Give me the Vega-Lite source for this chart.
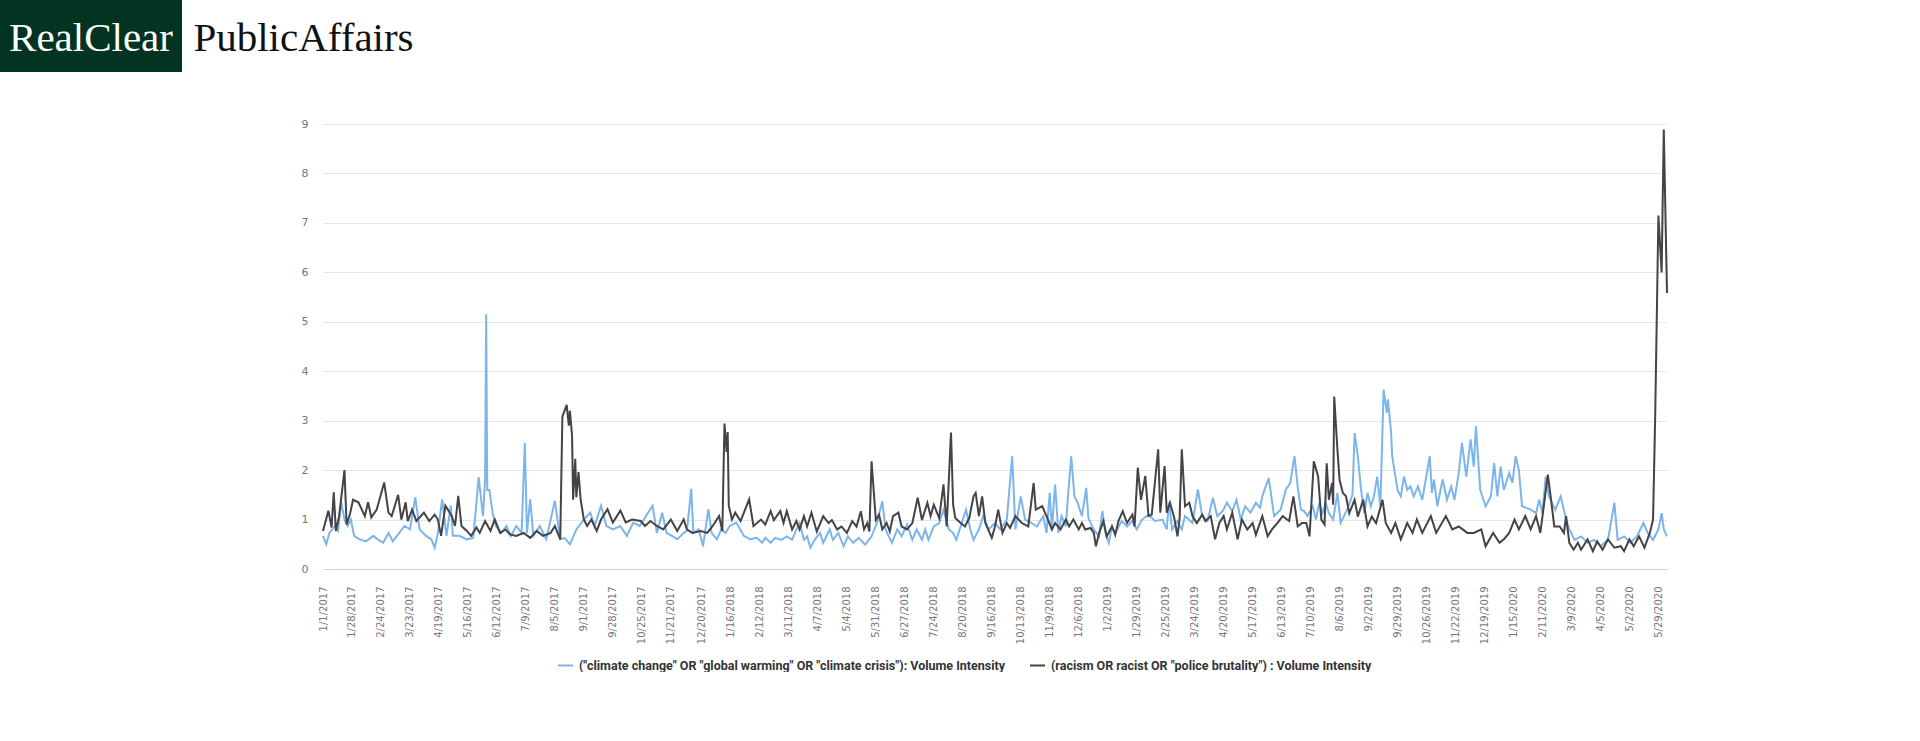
{
"$schema":"https://vega.github.io/schema/vega-lite/v6.json",
"background":"white",
"padding":0,
"config":{"view":{"stroke":null}},
"spacing":46,
"vconcat":[
{"hconcat":[
 {"width":182,"height":72,"data":{"values":[{"brand":"RealClear"}]},
  "layer":[
   {"mark":{"type":"rect","color":"#033321"}},
   {"mark":{"type":"text","font":"Liberation Serif","fontSize":41,"color":"white","dy":3},"encoding":{"text":{"field":"brand"}}}
  ]},
 {"width":243,"height":72,"data":{"values":[{"brand":"PublicAffairs"}]},
  "mark":{"type":"text","font":"Liberation Serif","fontSize":41,"color":"#111111","dy":3},
  "encoding":{"text":{"field":"brand"}}}
],"spacing":0},
{"hconcat":[
 {"width":301,"height":10,"data":{"values":[]},"mark":"rect"},
 {"width":1344,"height":445,
  "data":{"values":[
{"d":"2017-01-01","s":"c","v":0.67},{"d":"2017-01-04","s":"c","v":0.5},{"d":"2017-01-07","s":"c","v":0.73},{"d":"2017-01-12","s":"c","v":0.87},{"d":"2017-01-15","s":"c","v":0.77},{"d":"2017-01-18","s":"c","v":1.35},{"d":"2017-01-21","s":"c","v":1.0},{"d":"2017-01-24","s":"c","v":0.87},{"d":"2017-01-27","s":"c","v":1.0},{"d":"2017-01-30","s":"c","v":0.67},
{"d":"2017-02-04","s":"c","v":0.6},{"d":"2017-02-10","s":"c","v":0.56},{"d":"2017-02-17","s":"c","v":0.67},{"d":"2017-02-21","s":"c","v":0.6},{"d":"2017-02-26","s":"c","v":0.53},{"d":"2017-03-03","s":"c","v":0.73},{"d":"2017-03-07","s":"c","v":0.56},{"d":"2017-03-13","s":"c","v":0.73},{"d":"2017-03-18","s":"c","v":0.87},{"d":"2017-03-23","s":"c","v":0.8},
{"d":"2017-03-28","s":"c","v":1.45},{"d":"2017-04-01","s":"c","v":0.8},{"d":"2017-04-07","s":"c","v":0.67},{"d":"2017-04-12","s":"c","v":0.6},{"d":"2017-04-15","s":"c","v":0.43},{"d":"2017-04-18","s":"c","v":0.73},{"d":"2017-04-22","s":"c","v":1.41},{"d":"2017-04-26","s":"c","v":0.67},{"d":"2017-04-30","s":"c","v":1.28},{"d":"2017-05-02","s":"c","v":0.67},
{"d":"2017-05-08","s":"c","v":0.67},{"d":"2017-05-15","s":"c","v":0.6},{"d":"2017-05-21","s":"c","v":0.63},{"d":"2017-05-26","s":"c","v":1.86},{"d":"2017-05-30","s":"c","v":1.07},{"d":"2017-06-01","s":"c","v":1.8},{"d":"2017-06-02","s":"c","v":5.15},{"d":"2017-06-03","s":"c","v":1.6},{"d":"2017-06-05","s":"c","v":1.6},{"d":"2017-06-08","s":"c","v":1.14},
{"d":"2017-06-11","s":"c","v":0.87},{"d":"2017-06-16","s":"c","v":0.73},{"d":"2017-06-21","s":"c","v":0.87},{"d":"2017-06-25","s":"c","v":0.67},{"d":"2017-06-30","s":"c","v":0.87},{"d":"2017-07-05","s":"c","v":0.73},{"d":"2017-07-08","s":"c","v":2.55},{"d":"2017-07-10","s":"c","v":0.73},{"d":"2017-07-13","s":"c","v":1.41},{"d":"2017-07-16","s":"c","v":0.67},
{"d":"2017-07-22","s":"c","v":0.87},{"d":"2017-07-28","s":"c","v":0.6},{"d":"2017-08-05","s":"c","v":1.38},{"d":"2017-08-10","s":"c","v":0.6},{"d":"2017-08-14","s":"c","v":0.63},{"d":"2017-08-19","s":"c","v":0.5},{"d":"2017-08-25","s":"c","v":0.8},{"d":"2017-09-01","s":"c","v":1.0},{"d":"2017-09-07","s":"c","v":1.14},{"d":"2017-09-11","s":"c","v":0.87},
{"d":"2017-09-17","s":"c","v":1.28},{"d":"2017-09-22","s":"c","v":0.87},{"d":"2017-09-28","s":"c","v":0.8},{"d":"2017-10-05","s":"c","v":0.87},{"d":"2017-10-11","s":"c","v":0.67},{"d":"2017-10-17","s":"c","v":0.94},{"d":"2017-10-23","s":"c","v":0.87},{"d":"2017-11-04","s":"c","v":1.28},{"d":"2017-11-08","s":"c","v":0.73},{"d":"2017-11-13","s":"c","v":1.14},
{"d":"2017-11-17","s":"c","v":0.73},{"d":"2017-11-22","s":"c","v":0.67},{"d":"2017-11-27","s":"c","v":0.6},{"d":"2017-12-03","s":"c","v":0.73},{"d":"2017-12-06","s":"c","v":0.77},{"d":"2017-12-10","s":"c","v":1.62},{"d":"2017-12-12","s":"c","v":0.73},{"d":"2017-12-17","s":"c","v":0.8},{"d":"2017-12-21","s":"c","v":0.46},{"d":"2017-12-26","s":"c","v":1.21},
{"d":"2017-12-29","s":"c","v":0.73},{"d":"2018-01-03","s":"c","v":0.6},{"d":"2018-01-07","s":"c","v":0.8},{"d":"2018-01-11","s":"c","v":0.73},{"d":"2018-01-15","s":"c","v":0.87},{"d":"2018-01-21","s":"c","v":0.94},{"d":"2018-01-28","s":"c","v":0.67},{"d":"2018-02-03","s":"c","v":0.6},{"d":"2018-02-09","s":"c","v":0.63},{"d":"2018-02-14","s":"c","v":0.53},
{"d":"2018-02-17","s":"c","v":0.63},{"d":"2018-02-22","s":"c","v":0.53},{"d":"2018-02-26","s":"c","v":0.63},{"d":"2018-03-04","s":"c","v":0.59},{"d":"2018-03-09","s":"c","v":0.66},{"d":"2018-03-14","s":"c","v":0.59},{"d":"2018-03-18","s":"c","v":0.8},{"d":"2018-03-21","s":"c","v":0.93},{"d":"2018-03-25","s":"c","v":0.59},{"d":"2018-03-28","s":"c","v":0.66},
{"d":"2018-03-31","s":"c","v":0.43},{"d":"2018-04-04","s":"c","v":0.59},{"d":"2018-04-09","s":"c","v":0.73},{"d":"2018-04-12","s":"c","v":0.53},{"d":"2018-04-18","s":"c","v":0.8},{"d":"2018-04-21","s":"c","v":0.59},{"d":"2018-04-26","s":"c","v":0.73},{"d":"2018-05-01","s":"c","v":0.46},{"d":"2018-05-05","s":"c","v":0.66},{"d":"2018-05-10","s":"c","v":0.53},
{"d":"2018-05-15","s":"c","v":0.63},{"d":"2018-05-21","s":"c","v":0.49},{"d":"2018-05-27","s":"c","v":0.66},{"d":"2018-06-01","s":"c","v":0.93},{"d":"2018-06-06","s":"c","v":1.37},{"d":"2018-06-09","s":"c","v":0.8},{"d":"2018-06-12","s":"c","v":0.66},{"d":"2018-06-15","s":"c","v":0.53},{"d":"2018-06-20","s":"c","v":0.8},{"d":"2018-06-24","s":"c","v":0.66},
{"d":"2018-06-29","s":"c","v":0.9},{"d":"2018-07-04","s":"c","v":0.59},{"d":"2018-07-08","s":"c","v":0.8},{"d":"2018-07-13","s":"c","v":0.59},{"d":"2018-07-16","s":"c","v":0.8},{"d":"2018-07-19","s":"c","v":0.59},{"d":"2018-07-24","s":"c","v":0.86},{"d":"2018-07-29","s":"c","v":0.93},{"d":"2018-08-02","s":"c","v":1.2},{"d":"2018-08-07","s":"c","v":0.8},
{"d":"2018-08-11","s":"c","v":0.73},{"d":"2018-08-14","s":"c","v":0.59},{"d":"2018-08-19","s":"c","v":0.93},{"d":"2018-08-23","s":"c","v":1.2},{"d":"2018-08-27","s":"c","v":0.8},{"d":"2018-08-30","s":"c","v":0.59},{"d":"2018-09-04","s":"c","v":0.8},{"d":"2018-09-08","s":"c","v":1.07},{"d":"2018-09-13","s":"c","v":0.8},{"d":"2018-09-19","s":"c","v":0.93},
{"d":"2018-09-24","s":"c","v":0.8},{"d":"2018-09-30","s":"c","v":1.0},{"d":"2018-10-05","s":"c","v":2.28},{"d":"2018-10-08","s":"c","v":0.8},{"d":"2018-10-13","s":"c","v":1.47},{"d":"2018-10-17","s":"c","v":1.0},{"d":"2018-10-23","s":"c","v":0.93},{"d":"2018-10-28","s":"c","v":0.86},{"d":"2018-11-03","s":"c","v":1.07},{"d":"2018-11-06","s":"c","v":0.73},
{"d":"2018-11-09","s":"c","v":1.54},{"d":"2018-11-11","s":"c","v":0.8},{"d":"2018-11-14","s":"c","v":1.71},{"d":"2018-11-17","s":"c","v":0.73},{"d":"2018-11-20","s":"c","v":1.07},{"d":"2018-11-24","s":"c","v":0.86},{"d":"2018-11-26","s":"c","v":1.47},{"d":"2018-11-29","s":"c","v":2.28},{"d":"2018-12-02","s":"c","v":1.47},{"d":"2018-12-05","s":"c","v":1.34},
{"d":"2018-12-09","s":"c","v":1.07},{"d":"2018-12-13","s":"c","v":1.64},{"d":"2018-12-15","s":"c","v":1.03},{"d":"2018-12-20","s":"c","v":0.8},{"d":"2018-12-25","s":"c","v":0.66},{"d":"2018-12-28","s":"c","v":1.17},{"d":"2018-12-31","s":"c","v":0.73},{"d":"2019-01-03","s":"c","v":0.53},{"d":"2019-01-06","s":"c","v":0.86},{"d":"2019-01-09","s":"c","v":0.73},
{"d":"2019-01-15","s":"c","v":0.97},{"d":"2019-01-20","s":"c","v":0.86},{"d":"2019-01-25","s":"c","v":0.97},{"d":"2019-01-29","s":"c","v":0.8},{"d":"2019-02-03","s":"c","v":1.0},{"d":"2019-02-09","s":"c","v":1.1},{"d":"2019-02-15","s":"c","v":0.97},{"d":"2019-02-22","s":"c","v":1.0},{"d":"2019-02-26","s":"c","v":0.8},{"d":"2019-02-28","s":"c","v":1.34},
{"d":"2019-03-03","s":"c","v":0.8},{"d":"2019-03-08","s":"c","v":0.97},{"d":"2019-03-12","s":"c","v":0.8},{"d":"2019-03-15","s":"c","v":1.07},{"d":"2019-03-22","s":"c","v":0.93},{"d":"2019-03-27","s":"c","v":1.61},{"d":"2019-03-31","s":"c","v":1.07},{"d":"2019-04-05","s":"c","v":0.97},{"d":"2019-04-10","s":"c","v":1.44},{"d":"2019-04-14","s":"c","v":1.07},
{"d":"2019-04-19","s":"c","v":1.17},{"d":"2019-04-23","s":"c","v":1.34},{"d":"2019-04-28","s":"c","v":1.17},{"d":"2019-05-02","s":"c","v":1.4},{"d":"2019-05-06","s":"c","v":1.0},{"d":"2019-05-10","s":"c","v":1.27},{"d":"2019-05-15","s":"c","v":1.14},{"d":"2019-05-20","s":"c","v":1.34},{"d":"2019-05-24","s":"c","v":1.24},{"d":"2019-05-26","s":"c","v":1.47},
{"d":"2019-06-01","s":"c","v":1.84},{"d":"2019-06-06","s":"c","v":1.07},{"d":"2019-06-12","s":"c","v":1.2},{"d":"2019-06-17","s":"c","v":1.61},{"d":"2019-06-21","s":"c","v":1.74},{"d":"2019-06-25","s":"c","v":2.28},{"d":"2019-06-28","s":"c","v":1.66},{"d":"2019-07-01","s":"c","v":1.2},{"d":"2019-07-04","s":"c","v":1.17},{"d":"2019-07-07","s":"c","v":1.07},
{"d":"2019-07-12","s":"c","v":1.27},{"d":"2019-07-15","s":"c","v":1.0},{"d":"2019-07-18","s":"c","v":1.34},{"d":"2019-07-21","s":"c","v":1.13},{"d":"2019-07-24","s":"c","v":1.34},{"d":"2019-07-27","s":"c","v":1.13},{"d":"2019-07-31","s":"c","v":1.0},{"d":"2019-08-04","s":"c","v":1.54},{"d":"2019-08-07","s":"c","v":0.93},{"d":"2019-08-13","s":"c","v":1.2},
{"d":"2019-08-18","s":"c","v":1.5},{"d":"2019-08-20","s":"c","v":2.75},{"d":"2019-08-23","s":"c","v":2.28},{"d":"2019-08-26","s":"c","v":1.6},{"d":"2019-08-29","s":"c","v":1.13},{"d":"2019-09-01","s":"c","v":1.54},{"d":"2019-09-04","s":"c","v":1.27},{"d":"2019-09-07","s":"c","v":1.47},{"d":"2019-09-10","s":"c","v":1.87},{"d":"2019-09-13","s":"c","v":1.27},
{"d":"2019-09-16","s":"c","v":3.63},{"d":"2019-09-19","s":"c","v":3.16},{"d":"2019-09-20","s":"c","v":3.43},{"d":"2019-09-23","s":"c","v":2.75},{"d":"2019-09-24","s":"c","v":2.28},{"d":"2019-09-29","s":"c","v":1.6},{"d":"2019-10-02","s":"c","v":1.47},{"d":"2019-10-05","s":"c","v":1.87},{"d":"2019-10-08","s":"c","v":1.6},{"d":"2019-10-11","s":"c","v":1.67},
{"d":"2019-10-14","s":"c","v":1.47},{"d":"2019-10-18","s":"c","v":1.67},{"d":"2019-10-22","s":"c","v":1.4},{"d":"2019-10-29","s":"c","v":2.28},{"d":"2019-10-31","s":"c","v":1.54},{"d":"2019-11-02","s":"c","v":1.81},{"d":"2019-11-05","s":"c","v":1.27},{"d":"2019-11-10","s":"c","v":1.81},{"d":"2019-11-14","s":"c","v":1.4},{"d":"2019-11-18","s":"c","v":1.67},
{"d":"2019-11-21","s":"c","v":1.4},{"d":"2019-11-25","s":"c","v":1.94},{"d":"2019-11-28","s":"c","v":2.55},{"d":"2019-12-02","s":"c","v":1.87},{"d":"2019-12-06","s":"c","v":2.62},{"d":"2019-12-09","s":"c","v":2.07},{"d":"2019-12-11","s":"c","v":2.89},{"d":"2019-12-15","s":"c","v":1.6},{"d":"2019-12-20","s":"c","v":1.27},{"d":"2019-12-25","s":"c","v":1.47},
{"d":"2019-12-28","s":"c","v":2.14},{"d":"2019-12-31","s":"c","v":1.47},{"d":"2020-01-03","s":"c","v":2.07},{"d":"2020-01-06","s":"c","v":1.6},{"d":"2020-01-11","s":"c","v":1.94},{"d":"2020-01-14","s":"c","v":1.74},{"d":"2020-01-17","s":"c","v":2.28},{"d":"2020-01-20","s":"c","v":2.0},{"d":"2020-01-23","s":"c","v":1.27},{"d":"2020-01-31","s":"c","v":1.2},
{"d":"2020-02-05","s":"c","v":1.13},{"d":"2020-02-08","s":"c","v":1.4},{"d":"2020-02-11","s":"c","v":1.13},{"d":"2020-02-14","s":"c","v":1.87},{"d":"2020-02-17","s":"c","v":1.47},{"d":"2020-02-23","s":"c","v":1.2},{"d":"2020-02-28","s":"c","v":1.47},{"d":"2020-03-04","s":"c","v":1.0},{"d":"2020-03-07","s":"c","v":0.8},{"d":"2020-03-12","s":"c","v":0.59},
{"d":"2020-03-18","s":"c","v":0.66},{"d":"2020-03-24","s":"c","v":0.53},{"d":"2020-03-30","s":"c","v":0.59},{"d":"2020-04-05","s":"c","v":0.46},{"d":"2020-04-12","s":"c","v":0.59},{"d":"2020-04-18","s":"c","v":1.34},{"d":"2020-04-21","s":"c","v":0.59},{"d":"2020-04-27","s":"c","v":0.66},{"d":"2020-05-03","s":"c","v":0.53},{"d":"2020-05-09","s":"c","v":0.66},
{"d":"2020-05-15","s":"c","v":0.93},{"d":"2020-05-19","s":"c","v":0.73},{"d":"2020-05-24","s":"c","v":0.59},{"d":"2020-05-29","s":"c","v":0.8},{"d":"2020-06-01","s":"c","v":1.13},{"d":"2020-06-03","s":"c","v":0.8},{"d":"2020-06-06","s":"c","v":0.66},
{"d":"2017-01-01","s":"r","v":0.77},{"d":"2017-01-06","s":"r","v":1.18},{"d":"2017-01-09","s":"r","v":0.84},{"d":"2017-01-11","s":"r","v":1.55},{"d":"2017-01-13","s":"r","v":0.77},{"d":"2017-01-16","s":"r","v":1.07},{"d":"2017-01-21","s":"r","v":2.0},{"d":"2017-01-23","s":"r","v":0.9},{"d":"2017-01-26","s":"r","v":1.1},{"d":"2017-01-29","s":"r","v":1.4},
{"d":"2017-02-03","s":"r","v":1.35},{"d":"2017-02-09","s":"r","v":1.07},{"d":"2017-02-12","s":"r","v":1.35},{"d":"2017-02-15","s":"r","v":1.04},{"d":"2017-02-20","s":"r","v":1.2},{"d":"2017-02-27","s":"r","v":1.75},{"d":"2017-03-03","s":"r","v":1.14},{"d":"2017-03-06","s":"r","v":1.07},{"d":"2017-03-12","s":"r","v":1.5},{"d":"2017-03-15","s":"r","v":1.0},
{"d":"2017-03-19","s":"r","v":1.35},{"d":"2017-03-21","s":"r","v":0.97},{"d":"2017-03-25","s":"r","v":1.2},{"d":"2017-03-29","s":"r","v":0.97},{"d":"2017-04-05","s":"r","v":1.14},{"d":"2017-04-10","s":"r","v":0.97},{"d":"2017-04-15","s":"r","v":1.1},{"d":"2017-04-18","s":"r","v":1.0},{"d":"2017-04-21","s":"r","v":0.67},{"d":"2017-04-25","s":"r","v":1.28},
{"d":"2017-05-01","s":"r","v":1.07},{"d":"2017-05-04","s":"r","v":0.87},{"d":"2017-05-07","s":"r","v":1.48},{"d":"2017-05-10","s":"r","v":0.87},{"d":"2017-05-15","s":"r","v":0.77},{"d":"2017-05-19","s":"r","v":0.67},{"d":"2017-05-24","s":"r","v":0.84},{"d":"2017-05-27","s":"r","v":0.73},{"d":"2017-06-01","s":"r","v":0.97},{"d":"2017-06-06","s":"r","v":0.77},
{"d":"2017-06-10","s":"r","v":1.0},{"d":"2017-06-15","s":"r","v":0.73},{"d":"2017-06-20","s":"r","v":0.8},{"d":"2017-06-24","s":"r","v":0.7},{"d":"2017-06-30","s":"r","v":0.67},{"d":"2017-07-07","s":"r","v":0.73},{"d":"2017-07-13","s":"r","v":0.63},{"d":"2017-07-19","s":"r","v":0.77},{"d":"2017-07-25","s":"r","v":0.67},{"d":"2017-08-01","s":"r","v":0.73},
{"d":"2017-08-05","s":"r","v":0.87},{"d":"2017-08-10","s":"r","v":0.6},{"d":"2017-08-12","s":"r","v":3.08},{"d":"2017-08-16","s":"r","v":3.32},{"d":"2017-08-18","s":"r","v":2.9},{"d":"2017-08-19","s":"r","v":3.2},{"d":"2017-08-21","s":"r","v":2.7},{"d":"2017-08-22","s":"r","v":1.4},{"d":"2017-08-24","s":"r","v":2.23},{"d":"2017-08-25","s":"r","v":1.45},
{"d":"2017-08-27","s":"r","v":1.96},{"d":"2017-08-29","s":"r","v":1.41},{"d":"2017-09-01","s":"r","v":1.0},{"d":"2017-09-04","s":"r","v":0.87},{"d":"2017-09-08","s":"r","v":1.0},{"d":"2017-09-13","s":"r","v":0.77},{"d":"2017-09-17","s":"r","v":1.0},{"d":"2017-09-23","s":"r","v":1.21},{"d":"2017-09-28","s":"r","v":0.94},{"d":"2017-10-05","s":"r","v":1.18},
{"d":"2017-10-10","s":"r","v":0.94},{"d":"2017-10-16","s":"r","v":1.0},{"d":"2017-10-24","s":"r","v":0.97},{"d":"2017-10-28","s":"r","v":0.87},{"d":"2017-11-02","s":"r","v":0.97},{"d":"2017-11-08","s":"r","v":0.87},{"d":"2017-11-14","s":"r","v":0.8},{"d":"2017-11-21","s":"r","v":1.0},{"d":"2017-11-27","s":"r","v":0.77},{"d":"2017-12-03","s":"r","v":1.0},
{"d":"2017-12-06","s":"r","v":0.8},{"d":"2017-12-11","s":"r","v":0.73},{"d":"2017-12-19","s":"r","v":0.77},{"d":"2017-12-25","s":"r","v":0.73},{"d":"2017-12-30","s":"r","v":0.87},{"d":"2018-01-05","s":"r","v":1.07},{"d":"2018-01-08","s":"r","v":0.77},{"d":"2018-01-10","s":"r","v":2.94},{"d":"2018-01-12","s":"r","v":2.37},{"d":"2018-01-13","s":"r","v":2.77},
{"d":"2018-01-14","s":"r","v":1.28},{"d":"2018-01-17","s":"r","v":1.0},{"d":"2018-01-20","s":"r","v":1.14},{"d":"2018-01-25","s":"r","v":0.97},{"d":"2018-02-02","s":"r","v":1.41},{"d":"2018-02-06","s":"r","v":0.87},{"d":"2018-02-13","s":"r","v":1.0},{"d":"2018-02-17","s":"r","v":0.9},{"d":"2018-02-22","s":"r","v":1.17},{"d":"2018-02-25","s":"r","v":0.99},
{"d":"2018-03-03","s":"r","v":1.17},{"d":"2018-03-06","s":"r","v":0.93},{"d":"2018-03-09","s":"r","v":1.17},{"d":"2018-03-14","s":"r","v":0.8},{"d":"2018-03-18","s":"r","v":0.97},{"d":"2018-03-21","s":"r","v":0.8},{"d":"2018-03-25","s":"r","v":1.07},{"d":"2018-03-28","s":"r","v":0.86},{"d":"2018-04-01","s":"r","v":1.14},{"d":"2018-04-06","s":"r","v":0.76},
{"d":"2018-04-12","s":"r","v":1.07},{"d":"2018-04-17","s":"r","v":0.93},{"d":"2018-04-20","s":"r","v":0.99},{"d":"2018-04-25","s":"r","v":0.8},{"d":"2018-04-29","s":"r","v":0.86},{"d":"2018-05-04","s":"r","v":0.73},{"d":"2018-05-09","s":"r","v":0.97},{"d":"2018-05-13","s":"r","v":0.86},{"d":"2018-05-17","s":"r","v":1.17},{"d":"2018-05-20","s":"r","v":0.8},
{"d":"2018-05-23","s":"r","v":0.93},{"d":"2018-05-25","s":"r","v":0.76},{"d":"2018-05-27","s":"r","v":2.18},{"d":"2018-05-31","s":"r","v":0.99},{"d":"2018-06-03","s":"r","v":1.1},{"d":"2018-06-06","s":"r","v":0.8},{"d":"2018-06-10","s":"r","v":0.93},{"d":"2018-06-13","s":"r","v":0.76},{"d":"2018-06-16","s":"r","v":1.07},{"d":"2018-06-21","s":"r","v":1.14},
{"d":"2018-06-24","s":"r","v":0.86},{"d":"2018-06-29","s":"r","v":0.8},{"d":"2018-07-04","s":"r","v":0.93},{"d":"2018-07-09","s":"r","v":1.44},{"d":"2018-07-13","s":"r","v":0.99},{"d":"2018-07-18","s":"r","v":1.34},{"d":"2018-07-21","s":"r","v":1.07},{"d":"2018-07-24","s":"r","v":1.3},{"d":"2018-07-29","s":"r","v":1.03},{"d":"2018-08-02","s":"r","v":1.71},
{"d":"2018-08-05","s":"r","v":0.86},{"d":"2018-08-09","s":"r","v":2.76},{"d":"2018-08-11","s":"r","v":1.3},{"d":"2018-08-13","s":"r","v":1.03},{"d":"2018-08-18","s":"r","v":0.93},{"d":"2018-08-22","s":"r","v":0.86},{"d":"2018-08-26","s":"r","v":1.03},{"d":"2018-08-30","s":"r","v":1.47},{"d":"2018-09-01","s":"r","v":1.54},{"d":"2018-09-04","s":"r","v":1.07},
{"d":"2018-09-07","s":"r","v":1.47},{"d":"2018-09-10","s":"r","v":0.93},{"d":"2018-09-16","s":"r","v":0.63},{"d":"2018-09-19","s":"r","v":0.86},{"d":"2018-09-22","s":"r","v":1.2},{"d":"2018-09-26","s":"r","v":0.73},{"d":"2018-09-30","s":"r","v":0.93},{"d":"2018-10-03","s":"r","v":0.83},{"d":"2018-10-08","s":"r","v":1.07},{"d":"2018-10-14","s":"r","v":0.93},
{"d":"2018-10-20","s":"r","v":0.86},{"d":"2018-10-25","s":"r","v":1.74},{"d":"2018-10-27","s":"r","v":1.2},{"d":"2018-11-02","s":"r","v":1.27},{"d":"2018-11-06","s":"r","v":1.07},{"d":"2018-11-11","s":"r","v":0.8},{"d":"2018-11-14","s":"r","v":0.93},{"d":"2018-11-19","s":"r","v":0.8},{"d":"2018-11-24","s":"r","v":1.0},{"d":"2018-11-27","s":"r","v":0.86},
{"d":"2018-12-01","s":"r","v":1.0},{"d":"2018-12-06","s":"r","v":0.8},{"d":"2018-12-09","s":"r","v":0.93},{"d":"2018-12-12","s":"r","v":0.8},{"d":"2018-12-17","s":"r","v":0.83},{"d":"2018-12-20","s":"r","v":0.73},{"d":"2018-12-22","s":"r","v":0.46},{"d":"2018-12-25","s":"r","v":0.73},{"d":"2018-12-29","s":"r","v":0.97},{"d":"2019-01-01","s":"r","v":0.66},
{"d":"2019-01-06","s":"r","v":0.86},{"d":"2019-01-09","s":"r","v":0.69},{"d":"2019-01-12","s":"r","v":0.97},{"d":"2019-01-16","s":"r","v":1.17},{"d":"2019-01-20","s":"r","v":0.93},{"d":"2019-01-25","s":"r","v":1.1},{"d":"2019-01-27","s":"r","v":0.86},{"d":"2019-01-30","s":"r","v":2.05},{"d":"2019-02-02","s":"r","v":1.4},{"d":"2019-02-06","s":"r","v":1.88},
{"d":"2019-02-09","s":"r","v":1.07},{"d":"2019-02-12","s":"r","v":1.1},{"d":"2019-02-18","s":"r","v":2.42},{"d":"2019-02-20","s":"r","v":1.14},{"d":"2019-02-24","s":"r","v":2.08},{"d":"2019-02-26","s":"r","v":1.14},{"d":"2019-03-01","s":"r","v":1.34},{"d":"2019-03-05","s":"r","v":1.03},{"d":"2019-03-08","s":"r","v":0.66},{"d":"2019-03-10","s":"r","v":1.03},
{"d":"2019-03-12","s":"r","v":2.42},{"d":"2019-03-15","s":"r","v":1.27},{"d":"2019-03-19","s":"r","v":1.34},{"d":"2019-03-22","s":"r","v":1.07},{"d":"2019-03-26","s":"r","v":0.93},{"d":"2019-03-31","s":"r","v":1.1},{"d":"2019-04-03","s":"r","v":0.97},{"d":"2019-04-08","s":"r","v":1.07},{"d":"2019-04-12","s":"r","v":0.6},{"d":"2019-04-16","s":"r","v":0.93},
{"d":"2019-04-20","s":"r","v":1.07},{"d":"2019-04-23","s":"r","v":0.8},{"d":"2019-04-28","s":"r","v":1.14},{"d":"2019-05-03","s":"r","v":0.6},{"d":"2019-05-07","s":"r","v":1.0},{"d":"2019-05-12","s":"r","v":0.8},{"d":"2019-05-17","s":"r","v":0.93},{"d":"2019-05-20","s":"r","v":0.69},{"d":"2019-05-26","s":"r","v":1.07},{"d":"2019-05-31","s":"r","v":0.66},
{"d":"2019-06-04","s":"r","v":0.8},{"d":"2019-06-09","s":"r","v":0.93},{"d":"2019-06-14","s":"r","v":1.07},{"d":"2019-06-20","s":"r","v":0.97},{"d":"2019-06-24","s":"r","v":1.47},{"d":"2019-06-28","s":"r","v":0.86},{"d":"2019-07-02","s":"r","v":0.93},{"d":"2019-07-06","s":"r","v":0.93},{"d":"2019-07-09","s":"r","v":0.66},{"d":"2019-07-13","s":"r","v":2.18},
{"d":"2019-07-17","s":"r","v":1.87},{"d":"2019-07-20","s":"r","v":1.0},{"d":"2019-07-23","s":"r","v":0.9},{"d":"2019-07-25","s":"r","v":2.14},{"d":"2019-07-27","s":"r","v":1.4},{"d":"2019-07-30","s":"r","v":1.74},{"d":"2019-07-31","s":"r","v":1.3},{"d":"2019-08-01","s":"r","v":3.49},{"d":"2019-08-04","s":"r","v":2.41},{"d":"2019-08-06","s":"r","v":1.8},
{"d":"2019-08-09","s":"r","v":1.54},{"d":"2019-08-12","s":"r","v":1.47},{"d":"2019-08-15","s":"r","v":1.13},{"d":"2019-08-20","s":"r","v":1.4},{"d":"2019-08-23","s":"r","v":1.06},{"d":"2019-08-28","s":"r","v":1.4},{"d":"2019-09-01","s":"r","v":0.86},{"d":"2019-09-05","s":"r","v":1.06},{"d":"2019-09-09","s":"r","v":0.93},{"d":"2019-09-15","s":"r","v":1.4},
{"d":"2019-09-18","s":"r","v":0.93},{"d":"2019-09-23","s":"r","v":0.73},{"d":"2019-09-27","s":"r","v":0.93},{"d":"2019-10-02","s":"r","v":0.6},{"d":"2019-10-08","s":"r","v":0.93},{"d":"2019-10-13","s":"r","v":0.73},{"d":"2019-10-17","s":"r","v":1.0},{"d":"2019-10-22","s":"r","v":0.73},{"d":"2019-10-30","s":"r","v":1.07},{"d":"2019-11-04","s":"r","v":0.73},
{"d":"2019-11-13","s":"r","v":1.07},{"d":"2019-11-19","s":"r","v":0.8},{"d":"2019-11-25","s":"r","v":0.86},{"d":"2019-12-03","s":"r","v":0.73},{"d":"2019-12-09","s":"r","v":0.73},{"d":"2019-12-16","s":"r","v":0.8},{"d":"2019-12-20","s":"r","v":0.46},{"d":"2019-12-27","s":"r","v":0.73},{"d":"2020-01-02","s":"r","v":0.53},{"d":"2020-01-06","s":"r","v":0.6},
{"d":"2020-01-11","s":"r","v":0.73},{"d":"2020-01-16","s":"r","v":1.0},{"d":"2020-01-20","s":"r","v":0.8},{"d":"2020-01-26","s":"r","v":1.07},{"d":"2020-01-31","s":"r","v":0.8},{"d":"2020-02-05","s":"r","v":1.07},{"d":"2020-02-09","s":"r","v":0.73},{"d":"2020-02-16","s":"r","v":1.91},{"d":"2020-02-19","s":"r","v":1.4},{"d":"2020-02-22","s":"r","v":0.86},
{"d":"2020-02-27","s":"r","v":0.86},{"d":"2020-03-02","s":"r","v":0.73},{"d":"2020-03-04","s":"r","v":1.07},{"d":"2020-03-07","s":"r","v":0.53},{"d":"2020-03-11","s":"r","v":0.39},{"d":"2020-03-15","s":"r","v":0.53},{"d":"2020-03-18","s":"r","v":0.39},{"d":"2020-03-24","s":"r","v":0.6},{"d":"2020-03-29","s":"r","v":0.36},{"d":"2020-04-02","s":"r","v":0.56},
{"d":"2020-04-07","s":"r","v":0.39},{"d":"2020-04-12","s":"r","v":0.6},{"d":"2020-04-18","s":"r","v":0.43},{"d":"2020-04-24","s":"r","v":0.46},{"d":"2020-04-27","s":"r","v":0.36},{"d":"2020-05-02","s":"r","v":0.6},{"d":"2020-05-06","s":"r","v":0.46},{"d":"2020-05-11","s":"r","v":0.66},{"d":"2020-05-16","s":"r","v":0.43},{"d":"2020-05-21","s":"r","v":0.73},
{"d":"2020-05-24","s":"r","v":1.0},{"d":"2020-05-26","s":"r","v":3.09},{"d":"2020-05-29","s":"r","v":7.15},{"d":"2020-06-01","s":"r","v":6.0},{"d":"2020-06-03","s":"r","v":8.89},{"d":"2020-06-06","s":"r","v":5.58}
  ]},
  "mark":{"type":"line","strokeWidth":2,"interpolate":"linear"},
  "encoding":{
   "x":{"field":"d","type":"temporal",
    "scale":{"type":"utc","domain":[{"year":2017,"month":1,"date":1,"utc":true},{"year":2020,"month":6,"date":6,"utc":true}]},
    "axis":{"title":null,"grid":false,"ticks":false,"tickSize":0,"domainColor":"#ccd6eb","domainWidth":1,
     "values":[1483228800000,1485561600000,1487894400000,1490227200000,1492560000000,1494892800000,1497225600000,1499558400000,1501891200000,1504224000000,1506556800000,1508889600000,1511222400000,1513728000000,1516060800000,1518393600000,1520726400000,1523059200000,1525392000000,1527724800000,1530057600000,1532390400000,1534723200000,1537056000000,1539388800000,1541721600000,1544054400000,1546387200000,1548720000000,1551052800000,1553385600000,1555718400000,1558051200000,1560384000000,1562716800000,1565049600000,1567382400000,1569715200000,1572048000000,1574380800000,1576713600000,1579046400000,1581379200000,1583712000000,1586044800000,1588377600000,1590710400000],
     "format":"%-m/%-d/%Y","labelAngle":-90,"labelAlign":"right","labelBaseline":"middle","labelPadding":17,
     "labelFont":"DejaVu Sans","labelFontSize":10,"labelColor":"#777777","labelOverlap":false,"labelFlush":false,"labelBound":false}},
   "y":{"field":"v","type":"quantitative","scale":{"domain":[0,9],"nice":false,"zero":true},
    "axis":{"title":null,"values":[0,1,2,3,4,5,6,7,8,9],"domain":false,"ticks":false,"tickSize":0,"labelPadding":15,
     "labelFont":"DejaVu Sans","labelFontSize":11,"labelColor":"#777777","gridColor":"#e6e6e6","gridWidth":1}},
   "color":{"field":"s","type":"nominal",
    "scale":{"domain":["c","r"],"range":["#7cb5ec","#434348"]},
    "legend":{"orient":"none","legendX":557,"legendY":657,"direction":"horizontal","title":null,
     "symbolType":"stroke","symbolSize":225,"symbolStrokeWidth":2,"labelFont":"Roboto","labelFontSize":12.5,"labelFontWeight":"bold",
     "labelColor":"#333333","labelLimit":0,"columnPadding":20,"labelOffset":5,
     "labelExpr":"datum.value == 'c' ? '(\"climate change\" OR \"global warming\" OR \"climate crisis\"): Volume Intensity' : '(racism OR racist OR \"police brutality\") : Volume Intensity'"}}
  }
 }
],"spacing":0}
]
}
